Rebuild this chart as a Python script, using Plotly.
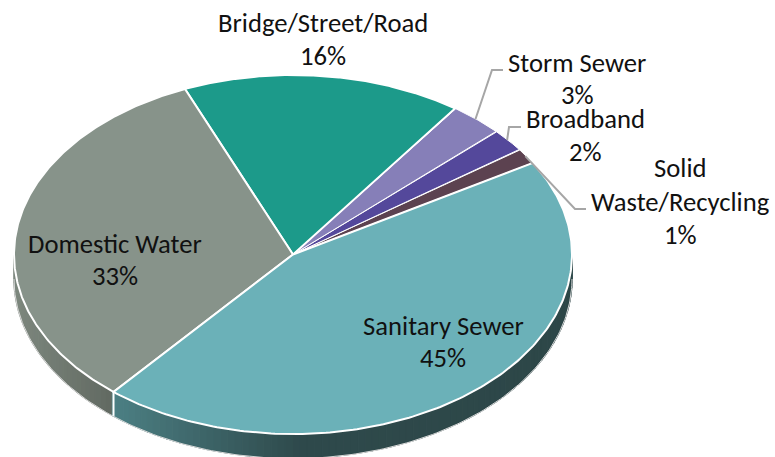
import numpy as np
import plotly.graph_objects as go

# slices, clockwise from the Sanitary Sewer start
categories = ["Sanitary Sewer", "Domestic Water", "Bridge/Street/Road", "Storm Sewer", "Broadband", "Solid Waste/Recycling"]
values = [44.65, 32.55, 16.19, 3.11, 2.08, 1.42]
colors = ["#6BB1B8", "#87938A", "#1C9A8A", "#867FB8", "#54489B", "#5C4250"]
edge_widths = [2, 2, 2, 1, 1, 1]

# pixel layout of the tilted disc
CX, CY = 293, 254.5
RX, RY = 279, 179.5
DEPTH = 24
START = 30.7  # degrees, top face, counted from east

FONT = dict(family="Carlito, Lato, sans-serif", size=26.67, color="#111111")


def px(theta):
    return CX + RX * np.cos(np.radians(theta))


def py(theta):
    return CY - RY * np.sin(np.radians(theta))


def side_color(x, stops):
    xs = [s[0] for s in stops]
    rgb = [np.interp(x, xs, [s[1][i] for s in stops]) for i in range(3)]
    return "rgb(%d,%d,%d)" % tuple(rgb)


fig = go.Figure()

cuts = START - np.cumsum([0] + values) * 360 / sum(values)
SEAM = cuts[1] + 360  # sanitary / domestic, on the front

# side wall, thin strips so the shading can run along it
side_stops = [(14, (126, 136, 127)), (112, (98, 106, 98)),
              (113, (76, 128, 132)), (300, (47, 74, 76)), (572, (45, 71, 72))]
steps = np.arange(180, 360, 1.5)
for t in steps:
    a = np.linspace(t, t + 1.5, 3)
    xs = np.r_[px(a), px(a[::-1])]
    ys = np.r_[py(a), py(a[::-1]) + DEPTH]
    c = side_color(px(t + 0.75), side_stops)
    fig.add_trace(go.Scatter(x=xs, y=ys, mode="lines", fill="toself", fillcolor=c,
                             line=dict(color=c, width=1.5), hoverinfo="skip"))

# rim of the wall and the seam between the two front slices
a = np.linspace(180, 360, 181)
fig.add_trace(go.Scatter(x=px(a), y=py(a) + DEPTH + 0.5, mode="lines",
                         line=dict(color="#D9D9D9", width=1), hoverinfo="skip"))
fig.add_trace(go.Scatter(x=[px(SEAM), px(SEAM)], y=[py(SEAM), py(SEAM) + DEPTH], mode="lines",
                         line=dict(color="#FFFFFF", width=2), hoverinfo="skip"))

# top face, reversed so the thick white edges end up on top
for i in reversed(range(len(values))):
    a = np.linspace(cuts[i], cuts[i + 1], 200)
    fig.add_trace(go.Scatter(x=np.r_[CX, px(a), CX], y=np.r_[CY, py(a), CY], mode="lines",
                             fill="toself", fillcolor=colors[i],
                             line=dict(color="#FFFFFF", width=edge_widths[i]),
                             name=categories[i], hoverinfo="name"))

# leader lines: slice rim -> knee -> label
mids = (cuts[:-1] + cuts[1:]) / 2
leaders = {3: [(492, 70), (503, 70)], 4: [(509, 127), (521, 127)], 5: [(575, 209), (586, 209)]}
for i, pts in leaders.items():
    fig.add_trace(go.Scatter(x=[px(mids[i]) - 1] + [p[0] for p in pts],
                             y=[py(mids[i])] + [p[1] for p in pts], mode="lines",
                             line=dict(color="#A6A6A6", width=2), hoverinfo="skip"))

# each text line is its own annotation, the line spacing is wider than plotly's
label_lines = {
    0: [("Sanitary Sewer", 443, 326)],
    1: [("Domestic Water", 115, 244)],
    2: [("Bridge/Street/Road", 323, 23)],
    3: [("Storm Sewer", 577, 63)],
    4: [("Broadband", 585, 119)],
    5: [("Solid", 680, 168), ("Waste/Recycling", 680, 202)],
}
pct_pos = {0: (443, 358), 1: (115, 276), 2: (323, 56), 3: (577, 95), 4: (585, 152), 5: (680, 235)}
for i in range(len(values)):
    for text, x, y in label_lines[i]:
        fig.add_annotation(x=x, y=y, text=text, showarrow=False, font=FONT)
    fig.add_annotation(x=pct_pos[i][0], y=pct_pos[i][1], text="%d%%" % round(values[i]),
                       showarrow=False, font=FONT)

fig.update_layout(
    width=775, height=457,
    margin=dict(l=0, r=0, t=0, b=0),
    paper_bgcolor="#FFFFFF",
    plot_bgcolor="#FFFFFF",
    showlegend=False,
    xaxis=dict(range=[0, 775], visible=False, fixedrange=True),
    yaxis=dict(range=[457, 0], visible=False, fixedrange=True),
)
# the page's default body margin would push the chart 8px off
fig.write_html("out.html", config={"displayModeBar": False},
               post_script="document.body.style.margin='0';document.body.style.overflow='hidden';")
